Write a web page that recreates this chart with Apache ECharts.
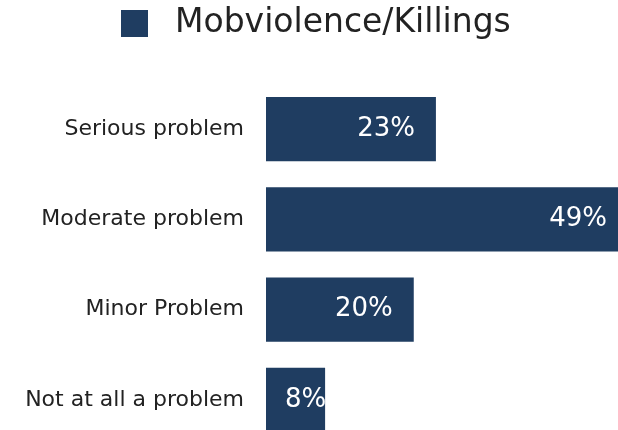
<!DOCTYPE html>
<html>
<head>
<meta charset="utf-8">
<script src="https://cdn.jsdelivr.net/npm/echarts@6/dist/echarts.min.js"></script>
<style>
  html, body { margin: 0; padding: 0; background: #fff; }
  #chart { width: 618px; height: 430px; }
</style>
</head>
<body>
<div id="chart"></div>
<script>
// data
const categories = ["Serious problem", "Moderate problem", "Minor Problem", "Not at all a problem"];
const values = [23, 49, 20, 8];
const seriesName = "Mobviolence/Killings";

const barColor = "#1f3d61";
const font = "DejaVu Sans";

const chart = echarts.init(document.getElementById("chart"));

const option = {
  animation: false,
  legend: {
    data: [seriesName],
    left: 116,
    top: 2,
    itemWidth: 27,
    itemHeight: 27,
    icon: "rect",
    textStyle: {
      fontFamily: font,
      fontSize: 33,
      lineHeight: 30,
      color: "#222",
      padding: [0, 0, 0, 22],
    },
  },
  grid: {
    left: 266,
    right: -10,
    top: 84,
    bottom: -15,
    outerBoundsMode: "none",
  },
  xAxis: {
    type: "value",
    min: 0,
    max: 49,
    show: false,
  },
  yAxis: {
    type: "category",
    data: categories,
    inverse: true,
    axisLine: { show: false },
    axisTick: { show: false },
    axisLabel: {
      margin: 22,
      fontFamily: font,
      fontSize: 22,
      color: "#222",
    },
  },
  series: [
    {
      name: seriesName,
      type: "bar",
      barCategoryGap: "29%",
      data: values.map((v) =>
        v < 10
          ? { value: v, label: { position: "insideLeft", distance: 19 } }
          : v
      ),
      itemStyle: { color: barColor },
      label: {
        show: true,
        position: "insideRight",
        distance: 21,
        color: "#fff",
        fontFamily: font,
        fontSize: 26,
        formatter: (p) => p.value + "%",
      },
    },
  ],
};

chart.setOption(option);
</script>
</body>
</html>
